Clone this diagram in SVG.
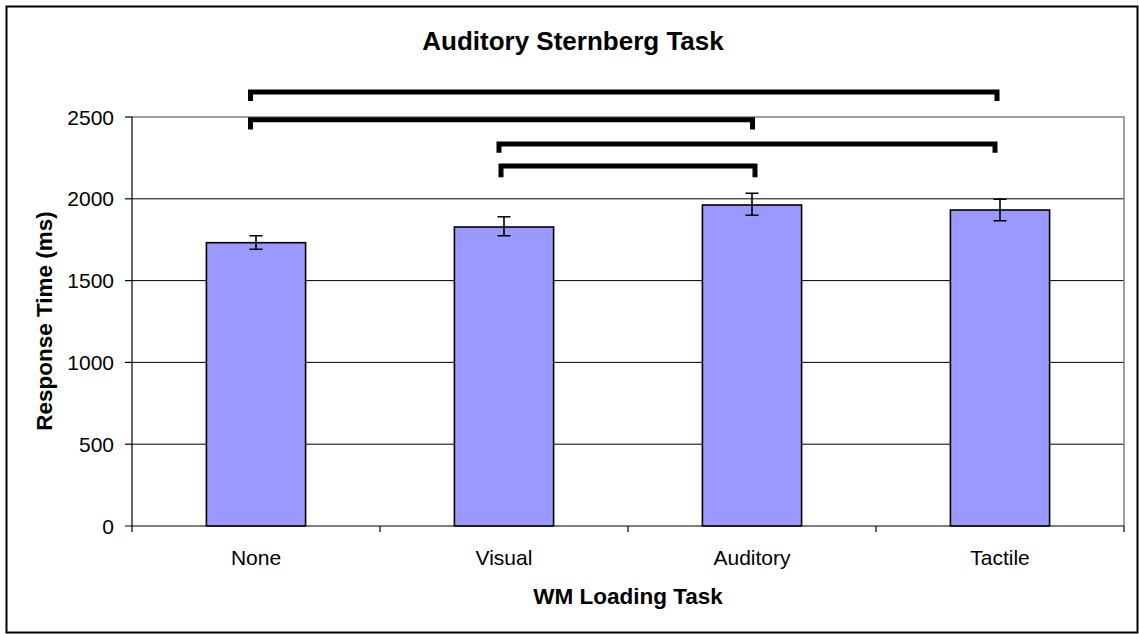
<svg xmlns="http://www.w3.org/2000/svg" width="1139" height="634" viewBox="0 0 1139 634">
  <style>
    .frame { fill: #ffffff; stroke: #000000; stroke-width: 2; }
    .plot { fill: none; stroke: #808080; stroke-width: 1.5; }
    .grid { stroke: #000000; stroke-width: 1; }
    .axis { stroke: #000000; stroke-width: 1.2; fill: none; }
    .bar { fill: #9999ff; stroke: #000000; stroke-width: 1.6; }
    .err { stroke: #000000; stroke-width: 1.6; fill: none; }
    .sig { stroke: #000000; stroke-width: 5; fill: none; stroke-linejoin: miter; stroke-linecap: butt; }
    .tick { font-family: "Liberation Sans", Arial, sans-serif; font-size: 21px; fill: #000000; }
    .title { font-family: "Liberation Sans", Arial, sans-serif; font-size: 26px; font-weight: bold; fill: #000000; }
    .label { font-family: "Liberation Sans", Arial, sans-serif; font-size: 22.5px; font-weight: bold; fill: #000000; }
  </style>

  <!-- chart area -->
  <rect class="frame" x="6.5" y="6.5" width="1131" height="626"/>

  <!-- plot area gridlines and border -->
  <g id="grid">
    <line class="grid" x1="132" y1="198.8" x2="1124" y2="198.8"/>
    <line class="grid" x1="132" y1="280.6" x2="1124" y2="280.6"/>
    <line class="grid" x1="132" y1="362.4" x2="1124" y2="362.4"/>
    <line class="grid" x1="132" y1="444.2" x2="1124" y2="444.2"/>
    <path class="plot" d="M132 117 H1124 V526"/>
  </g>

  <!-- axes -->
  <g id="axes">
    <line class="axis" x1="132" y1="117" x2="132" y2="532"/>
    <line class="axis" x1="125" y1="526" x2="1124" y2="526"/>
    <line class="axis" x1="125" y1="117" x2="132" y2="117"/>
    <line class="axis" x1="125" y1="198.8" x2="132" y2="198.8"/>
    <line class="axis" x1="125" y1="280.6" x2="132" y2="280.6"/>
    <line class="axis" x1="125" y1="362.4" x2="132" y2="362.4"/>
    <line class="axis" x1="125" y1="444.2" x2="132" y2="444.2"/>
    <line class="axis" x1="380" y1="526" x2="380" y2="532"/>
    <line class="axis" x1="628" y1="526" x2="628" y2="532"/>
    <line class="axis" x1="876" y1="526" x2="876" y2="532"/>
    <line class="axis" x1="1124" y1="526" x2="1124" y2="532"/>
  </g>

  <!-- y tick labels -->
  <g id="y-labels" class="tick" text-anchor="end">
    <text x="114" y="124.5">2500</text>
    <text x="114" y="206.3">2000</text>
    <text x="114" y="288">1500</text>
    <text x="114" y="370">1000</text>
    <text x="114" y="451.7">500</text>
    <text x="114" y="533.5">0</text>
  </g>

  <!-- bars -->
  <g id="bar-none">
    <rect class="bar" x="206.4" y="242.7" width="99.2" height="283.3"/>
    <path class="err" d="M256 235.7 V249.3 M249.5 235.7 H262.5 M249.5 249.3 H262.5"/>
    <text class="tick" x="256" y="565" text-anchor="middle">None</text>
  </g>
  <g id="bar-visual">
    <rect class="bar" x="454.4" y="227" width="99.2" height="299"/>
    <path class="err" d="M504 216.7 V235.7 M497.5 216.7 H510.5 M497.5 235.7 H510.5"/>
    <text class="tick" x="504" y="565" text-anchor="middle">Visual</text>
  </g>
  <g id="bar-auditory">
    <rect class="bar" x="702.4" y="205" width="99.2" height="321"/>
    <path class="err" d="M752 193.3 V215.3 M745.5 193.3 H758.5 M745.5 215.3 H758.5"/>
    <text class="tick" x="752" y="565" text-anchor="middle">Auditory</text>
  </g>
  <g id="bar-tactile">
    <rect class="bar" x="950.4" y="210" width="99.2" height="316"/>
    <path class="err" d="M1000 199.3 V220.7 M993.5 199.3 H1006.5 M993.5 220.7 H1006.5"/>
    <text class="tick" x="1000" y="565" text-anchor="middle">Tactile</text>
  </g>

  <!-- significance brackets -->
  <g id="connectors">
    <path class="sig" d="M250.5 101 V92 H997 V101"/>
    <path class="sig" d="M250.5 129.5 V119.7 H752.5 V129.5"/>
    <path class="sig" d="M499 152.7 V144 H995 V152.7"/>
    <path class="sig" d="M501 177.3 V166 H755 V177.3"/>
  </g>

  <!-- titles -->
  <g id="titles">
    <text class="title" x="573" y="50" text-anchor="middle">Auditory Sternberg Task</text>
    <text class="label" x="628" y="604" text-anchor="middle">WM Loading Task</text>
    <text class="label" transform="translate(51.5 321) rotate(-90)" text-anchor="middle">Response Time (ms)</text>
  </g>
</svg>
